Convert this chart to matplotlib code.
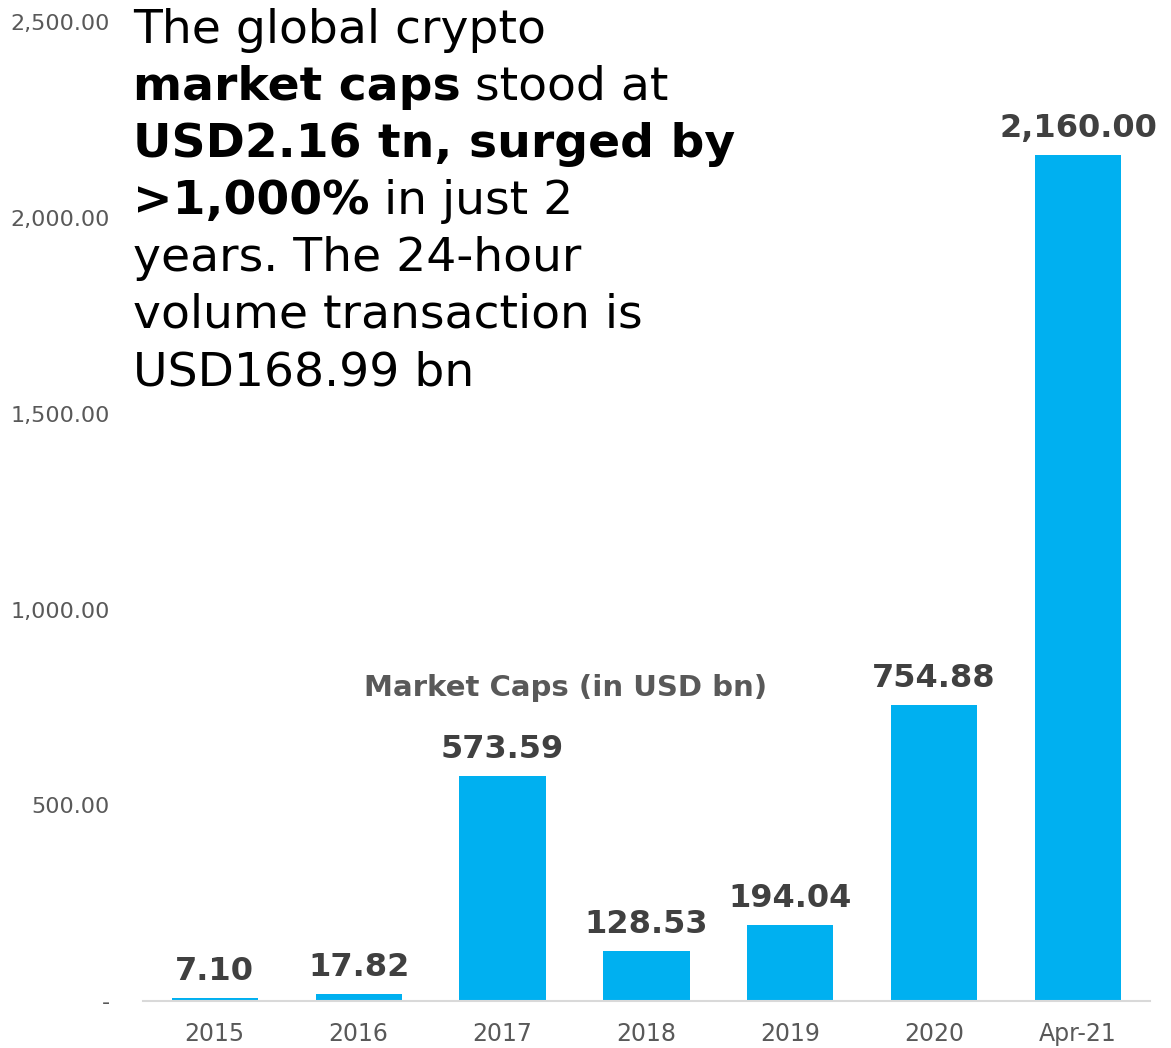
import matplotlib
matplotlib.use("Agg")
import matplotlib.pyplot as plt
from matplotlib.ticker import FuncFormatter

# ── Data ───────────────────────────────────────────────────────────────────
periods = ["2015", "2016", "2017", "2018", "2019", "2020", "Apr-21"]
market_caps = [7.10, 17.82, 573.59, 128.53, 194.04, 754.88, 2160.00]
y_ticks = [0, 500, 1000, 1500, 2000, 2500]

series_title = "Market Caps (in USD bn)"

# headline: each line is a list of (text, is_bold) runs
headline = [
    [("The global crypto", False)],
    [("market caps", True), ("stood at", False)],
    [("USD2.16 tn, surged by", True)],
    [(">1,000%", True), ("in just 2", False)],
    [("years. The 24-hour", False)],
    [("volume transaction is", False)],
    [("USD168.99 bn", False)],
]

BAR_BLUE = "#00B0F0"
LABEL_GREY = "#404040"
TICK_GREY = "#595959"

plt.rcParams["font.family"] = ["DejaVu Sans"]

fig = plt.figure(figsize=(11.71, 10.48), dpi=100)
ax = fig.add_axes([0.122, 0.0448, 0.86, 0.934])

x = range(len(periods))
bars = ax.bar(x, market_caps, width=0.6, color=BAR_BLUE, zorder=2)

ax.set_xlim(-0.5, 6.5)
ax.set_ylim(0, 2500)
ax.set_yticks(y_ticks)
ax.yaxis.set_major_formatter(
    FuncFormatter(lambda v, _: "-" if v == 0 else f"{v:,.2f}")
)
ax.set_xticks(list(x))
ax.set_xticklabels(periods)
ax.tick_params(axis="both", length=0, colors=TICK_GREY)
ax.tick_params(axis="y", labelsize=16, pad=24)
ax.tick_params(axis="x", labelsize=17, pad=15)

for side in ("top", "right", "left"):
    ax.spines[side].set_visible(False)
ax.spines["bottom"].set_color("#D9D9D9")
ax.spines["bottom"].set_linewidth(1.5)

# value labels above the bars
for rect, val in zip(bars, market_caps):
    ax.annotate(
        f"{val:,.2f}",
        xy=(rect.get_x() + rect.get_width() / 2, val),
        xytext=(0, 8), textcoords="offset points",
        ha="center", va="bottom",
        fontsize=23, fontweight="bold", color=LABEL_GREY,
    )

fig.text(566 / 1171, 1 - 688 / 1048, series_title,
         ha="center", va="center", fontsize=21, fontweight="bold",
         color=TICK_GREY)

# headline block, runs chained left to right on each line
line_step = 57 / 1048
top_baseline = 1 - 43 / 1048
for i, runs in enumerate(headline):
    y = top_baseline - i * line_step
    prev = None
    for text, bold in runs:
        weight = "bold" if bold else "normal"
        if prev is None:
            prev = fig.text(133 / 1171, y, text, ha="left", va="baseline",
                            fontsize=34, fontweight=weight, color="black")
        else:
            # start the next run just after the previous one, one space over
            prev = ax.annotate(
                text, xy=(1, 0), xycoords=prev,
                xytext=(10.5, 0), textcoords="offset points",
                ha="left", va="bottom",
                fontsize=34, fontweight=weight, color="black",
                annotation_clip=False,
            )

fig.savefig("out.png", dpi=100)
